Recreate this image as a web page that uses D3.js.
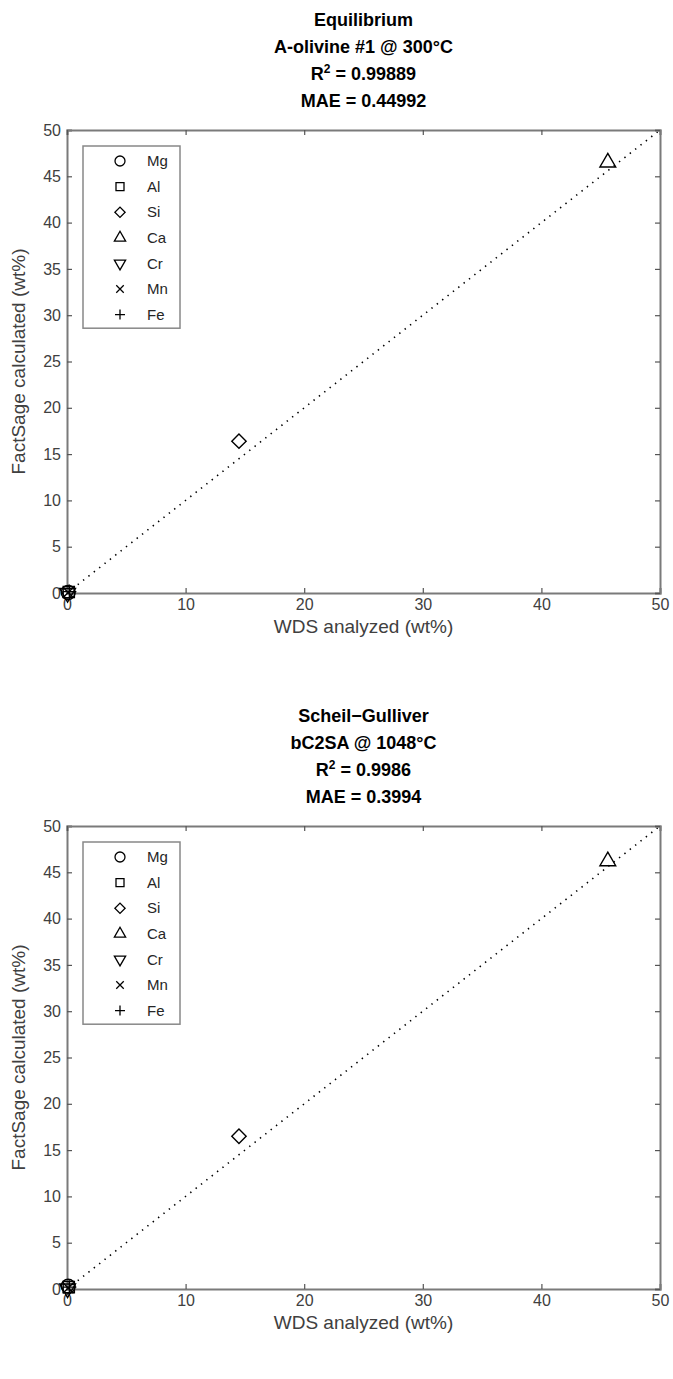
<!DOCTYPE html>
<html>
<head>
<meta charset="utf-8">
<script src="https://cdn.jsdelivr.net/npm/d3@7"></script>
<style>
  body { margin: 0; background: #fff; }
  text { font-family: "Liberation Sans", Arial, Helvetica, sans-serif; }
</style>
</head>
<body>
<div id="my_dataviz"></div>
<script>
// data
var elements = ["Mg", "Al", "Si", "Ca", "Cr", "Mn", "Fe"];
var shapes = ["circle", "square", "diamond", "triangle", "triangleDown", "times", "plus"];
var wdsAnalyzed = [0.1, 0.15, 14.5, 45.6, 0.05, 0.1, 0.2];
var calcEquilibrium = [0.05, 0.1, 16.4, 46.5, 0.0, 0.05, 0.15];
var calcScheil = [0.3, 0.2, 16.5, 46.2, 0.05, 0.1, 0.2];
var titlesEquilibrium = ["Equilibrium", "A-olivine #1 @ 300°C", "0.99889", "0.44992"];
var titlesScheil = ["Scheil\u2212Gulliver", "bC2SA @ 1048°C", "0.9986", "0.3994"];
var xTicks = [0, 10, 20, 30, 40, 50];
var yTicks = [0, 5, 10, 15, 20, 25, 30, 35, 40, 45, 50];

var W = 673, H = 1379;
var left = 67, right = 660, plotH = 463;

var svg = d3.select("#my_dataviz")
  .append("svg")
  .attr("width", W)
  .attr("height", H);

// marker path for each shape
function markerPath(shape, r) {
  if (shape == "circle") return d3.symbol(d3.symbolCircle, Math.PI * r * r)();
  if (shape == "square") return d3.symbol(d3.symbolSquare, (r * 1.6) * (r * 1.6))();
  if (shape == "diamond") return d3.symbol(d3.symbolSquare, (r * 1.45) * (r * 1.45))();
  if (shape == "triangle" || shape == "triangleDown") return d3.symbol(d3.symbolTriangle, r * r * 2.2)();
  if (shape == "plus") return "M" + (-r) + ",0H" + r + "M0," + (-r) + "V" + r;
  if (shape == "times") { var s = r * 0.75; return "M" + (-s) + "," + (-s) + "L" + s + "," + s + "M" + (-s) + "," + s + "L" + s + "," + (-s); }
}
function markerRotate(shape) {
  if (shape == "diamond") return " rotate(45)";
  if (shape == "triangleDown") return " rotate(180)";
  return "";
}

function drawPanel(top, titles, calc) {
  var bottom = top + plotH;
  var x = d3.scaleLinear().domain([0, 50]).range([left, right]);
  var y = d3.scaleLinear().domain([0, 50]).range([bottom, top]);

  var g = svg.append("g");

  // title lines
  var tx = (left + right) / 2;
  var tt = g.append("g")
    .attr("text-anchor", "middle")
    .style("font-weight", "bold")
    .style("font-size", "18px")
    .style("fill", "#000");
  tt.append("text").attr("x", tx).attr("y", top - 104).text(titles[0]);
  tt.append("text").attr("x", tx).attr("y", top - 77).text(titles[1]);
  var r2 = tt.append("text").attr("x", tx).attr("y", top - 50);
  r2.append("tspan").text("R");
  r2.append("tspan").attr("dy", -7).style("font-size", "12px").text("2");
  r2.append("tspan").attr("dy", 7).text(" = " + titles[2]);
  tt.append("text").attr("x", tx).attr("y", top - 23).text("MAE = " + titles[3]);

  // 1:1 line
  g.append("line")
    .attr("x1", x(0)).attr("y1", y(0))
    .attr("x2", x(50)).attr("y2", y(50))
    .style("stroke", "#000")
    .style("stroke-width", 1.6)
    .style("stroke-dasharray", "1.4,5.4");

  // axes, ticks inward on all four sides
  var ax = [
    g.append("g").attr("transform", "translate(0," + bottom + ")")
      .call(d3.axisBottom(x).tickValues(xTicks).tickSize(-5).tickPadding(6)),
    g.append("g").attr("transform", "translate(" + left + ",0)")
      .call(d3.axisLeft(y).tickValues(yTicks).tickSize(-5).tickPadding(6)),
    g.append("g").attr("transform", "translate(0," + top + ")")
      .call(d3.axisTop(x).tickValues(xTicks).tickSize(-5).tickFormat("")),
    g.append("g").attr("transform", "translate(" + right + ",0)")
      .call(d3.axisRight(y).tickValues(yTicks).tickSize(-5).tickFormat(""))
  ];
  ax.forEach(function(a) {
    a.select(".domain").style("stroke", "#7a7a7a").style("stroke-width", 2);
    a.selectAll(".tick line").style("stroke", "#555").style("stroke-width", 1.2);
    a.selectAll(".tick text")
      .style("font-size", "16px")
      .style("fill", "#404040")
      .style("font-family", "'Liberation Sans', Arial, sans-serif");
  });

  // axis labels
  g.append("text")
    .attr("x", tx)
    .attr("y", bottom + 40)
    .attr("text-anchor", "middle")
    .style("font-size", "19px")
    .style("fill", "#404040")
    .text("WDS analyzed (wt%)");
  g.append("text")
    .attr("transform", "translate(25," + ((top + bottom) / 2) + ") rotate(-90)")
    .attr("text-anchor", "middle")
    .style("font-size", "19px")
    .style("fill", "#404040")
    .text("FactSage calculated (wt%)");

  // points
  var pts = elements.map(function(e, i) {
    return {el: e, shape: shapes[i], wds: wdsAnalyzed[i], calc: calc[i]};
  });
  g.selectAll("path.pt")
    .data(pts)
    .enter()
    .append("path")
    .attr("class", "pt")
    .attr("d", function(d) { return markerPath(d.shape, 7); })
    .attr("transform", function(d) { return "translate(" + x(d.wds) + "," + y(d.calc) + ")" + markerRotate(d.shape); })
    .style("fill", "none")
    .style("stroke", "#000")
    .style("stroke-width", 1.4);

  // legend
  var lx = left + 16, ly = top + 16, lw = 97, step = 25.6;
  var leg = g.append("g").attr("transform", "translate(" + lx + "," + ly + ")");
  leg.append("rect")
    .attr("width", lw)
    .attr("height", step * elements.length + 3)
    .style("fill", "#fff")
    .style("stroke", "#888")
    .style("stroke-width", 1.5);
  var items = leg.selectAll("g.item")
    .data(pts)
    .enter()
    .append("g")
    .attr("class", "item")
    .attr("transform", function(d, i) { return "translate(0," + (15 + i * step) + ")"; });
  items.append("path")
    .attr("d", function(d) { return markerPath(d.shape, 5); })
    .attr("transform", function(d) { return "translate(37,0)" + markerRotate(d.shape); })
    .style("fill", "none")
    .style("stroke", "#000")
    .style("stroke-width", 1.3);
  items.append("text")
    .attr("x", 64)
    .attr("dy", "0.35em")
    .style("font-size", "15px")
    .style("fill", "#262626")
    .text(function(d) { return d.el; });
}

drawPanel(130, titlesEquilibrium, calcEquilibrium);
drawPanel(826, titlesScheil, calcScheil);
</script>
</body>
</html>
